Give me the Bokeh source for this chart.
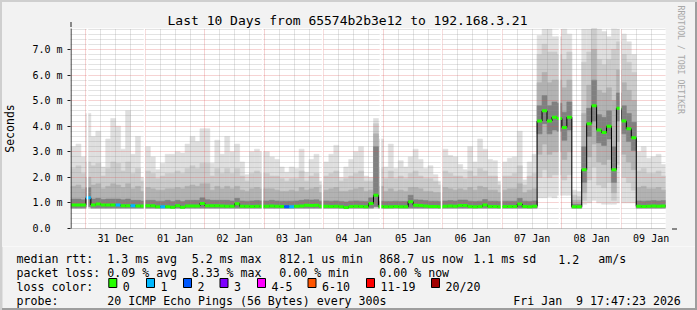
import math
import numpy as np
from bokeh.plotting import figure
from bokeh.layouts import column
from bokeh.models import FixedTicker, Grid, Arrow, NormalHead, Range1d, Title
from bokeh.core.properties import value
from bokeh.embed import file_html
from bokeh.resources import INLINE

# ---------------- data ----------------
# time axis: hours since 30 Dec 00:00; graph ends Fri Jan 9 17:47:23
T_END = 257.79
T_START = T_END - 240.0
BIN_START = 18.0          # first 2-hour consolidation bin (30 Dec 18:00)
BIN_HOURS = 2.0
Y_MAX = 7.82              # ms

day_labels = ["31 Dec", "01 Jan", "02 Jan", "03 Jan", "04 Jan",
              "05 Jan", "06 Jan", "07 Jan", "08 Jan", "09 Jan"]
label_hours = [36, 60, 84, 108, 132, 156, 180, 204, 228, 252]
y_ticks = [0, 1, 2, 3, 4, 5, 6, 7]
y_labels = ["0.0\u00a0\u00a0", "1.0 m", "2.0 m", "3.0 m", "4.0 m", "5.0 m", "6.0 m", "7.0 m"]

# median rtt per bin (ms)
median_ms = [
    0.92, 0.92, 0.92, 1.20, 0.92, 0.96, 0.92, 0.92, 0.92, 0.92,
    0.89, 0.89, 0.89, 0.88, 0.88, 0.89, 0.89, 0.85, 0.85, 0.85,
    0.83, 0.89, 0.83, 0.88, 0.88, 0.88, 0.98, 0.89, 0.89, 0.89,
    0.88, 0.87, 0.87, 0.97, 0.87, 0.87, 0.86, 0.87, 0.87, 0.87,
    0.88, 0.87, 0.86, 0.85, 0.85, 0.87, 0.88, 0.91, 0.90, 0.91,
    0.87, 0.87, 0.86, 0.87, 0.85, 0.82, 0.86, 0.87, 0.86, 0.85,
    0.98, 1.30, 0.86, 0.85, 0.85, 0.86, 0.85, 0.85, 1.05, 0.91,
    0.90, 0.88, 0.86, 0.86, 0.85, 0.87, 0.88, 0.87, 0.90, 0.90,
    0.86, 0.85, 0.86, 0.92, 0.86, 0.86, 0.85, 0.86, 0.86, 0.86,
    0.96, 0.86, 0.85, 0.87, 4.20, 4.60, 4.20, 4.35, 4.30, 3.95,
    4.35, 0.85, 0.85, 2.30, 4.10, 4.80, 3.85, 3.75, 4.00, 2.30,
    4.70, 4.20, 3.90, 3.55, 0.87, 0.86, 0.87, 0.88, 0.87, 0.88]

# lost pings (of 20) per bin
loss = [
    0, 0, 0, 1, 0, 0, 0, 0, 0, 1,
    0, 0, 1, 0, 0, 0, 0, 0, 1, 0,
    0, 0, 0, 0, 0, 0, 0, 0, 0, 0,
    0, 0, 0, 0, 0, 0, 0, 0, 0, 0,
    0, 0, 0, 2, 1, 0, 0, 0, 0, 0,
    0, 0, 0, 0, 0, 0, 0, 0, 0, 0,
    0, 0, 0, 0, 0, 0, 0, 0, 0, 0,
    0, 0, 0, 0, 0, 0, 0, 0, 0, 0,
    0, 0, 0, 0, 0, 0, 0, 0, 0, 0,
    0, 0, 0, 0, 0, 0, 0, 0, 0, 0,
    0, 0, 0, 0, 0, 0, 0, 0, 0, 0,
    0, 0, 0, 0, 0, 0, 0, 0, 0, 0]

# smoke: top of the four ping-spread bands (outermost first)
smoke_top1 = [
    3.20, 3.30, 2.80, 4.50, 3.60, 3.80, 2.40, 3.50, 4.30, 4.00,
    3.10, 4.60, 2.90, 3.60, 2.00, 3.20, 2.80, 2.30, 2.55, 2.90,
    2.90, 3.00, 2.95, 3.30, 3.60, 3.40, 3.90, 3.90, 2.55, 3.45,
    2.90, 3.60, 3.00, 3.30, 2.60, 2.10, 3.00, 3.10, 3.00, 3.00,
    2.80, 2.70, 2.40, 2.20, 2.40, 2.35, 3.10, 2.20, 2.70, 2.90,
    1.85, 2.60, 2.90, 3.25, 2.00, 2.40, 2.70, 3.00, 3.20, 2.05,
    2.00, 4.30, 3.50, 2.40, 3.30, 2.35, 2.65, 2.40, 2.80, 3.10,
    2.70, 2.35, 2.45, 2.10, 1.85, 3.10, 2.85, 2.80, 2.50, 2.30,
    3.20, 2.60, 3.50, 3.10, 2.70, 2.65, 1.85, 2.60, 2.75, 2.80,
    3.80, 1.90, 2.60, 2.90, 7.55, 7.80, 7.80, 7.50, 7.50, 7.80,
    7.60, 1.50, 1.45, 7.80, 7.80, 7.82, 7.80, 7.70, 7.50, 7.82,
    7.80, 7.60, 7.30, 6.80, 3.00, 3.20, 2.75, 2.80, 2.90, 2.50]
smoke_top2 = [
    2.35, 2.45, 2.15, 2.60, 2.45, 2.55, 2.05, 2.35, 2.60, 2.55,
    2.25, 2.60, 2.15, 2.35, 1.85, 2.25, 2.15, 1.95, 2.05, 2.15,
    2.15, 2.25, 2.15, 2.35, 2.45, 2.35, 2.55, 2.55, 2.05, 2.35,
    2.15, 2.35, 2.15, 2.35, 2.05, 1.85, 2.15, 2.25, 2.15, 2.15,
    2.05, 2.05, 1.95, 1.85, 1.95, 1.95, 2.25, 1.85, 2.05, 2.15,
    1.70, 2.05, 2.15, 2.25, 1.85, 1.95, 2.05, 2.15, 2.25, 1.85,
    1.85, 4.10, 2.35, 1.95, 2.25, 1.95, 2.05, 1.95, 2.15, 2.25,
    2.05, 1.95, 1.95, 1.85, 1.70, 2.25, 2.15, 2.05, 2.05, 1.95,
    2.25, 2.05, 2.35, 2.25, 2.05, 2.05, 1.70, 2.05, 2.05, 2.15,
    2.45, 1.70, 2.05, 2.15, 6.80, 7.20, 6.90, 6.90, 6.80, 6.60,
    6.90, 1.30, 1.25, 6.50, 6.90, 7.82, 6.60, 6.40, 6.60, 7.00,
    7.30, 6.80, 6.50, 6.10, 2.25, 2.35, 2.15, 2.15, 2.25, 2.05]
smoke_top3 = [
    1.65, 1.70, 1.55, 2.00, 1.70, 1.75, 1.55, 1.65, 1.75, 1.70,
    1.60, 1.75, 1.55, 1.65, 1.45, 1.60, 1.55, 1.50, 1.50, 1.55,
    1.55, 1.60, 1.55, 1.65, 1.70, 1.65, 1.75, 1.75, 1.50, 1.65,
    1.55, 1.65, 1.55, 1.65, 1.50, 1.45, 1.55, 1.60, 1.55, 1.55,
    1.55, 1.50, 1.45, 1.45, 1.50, 1.45, 1.60, 1.50, 1.55, 1.60,
    1.40, 1.50, 1.55, 1.60, 1.45, 1.45, 1.50, 1.55, 1.60, 1.45,
    1.50, 3.70, 1.65, 1.45, 1.55, 1.45, 1.50, 1.45, 1.60, 1.60,
    1.55, 1.45, 1.45, 1.40, 1.40, 1.60, 1.55, 1.50, 1.55, 1.50,
    1.60, 1.50, 1.65, 1.60, 1.50, 1.50, 1.40, 1.50, 1.55, 1.55,
    1.75, 1.40, 1.50, 1.55, 5.70, 6.10, 5.70, 5.80, 5.80, 5.50,
    5.80, 1.10, 1.10, 4.50, 5.60, 7.00, 5.40, 5.30, 5.50, 5.00,
    6.20, 5.70, 5.40, 5.00, 1.60, 1.65, 1.55, 1.55, 1.60, 1.50]
smoke_top4 = [
    1.15, 1.15, 1.12, 1.60, 1.15, 1.18, 1.13, 1.15, 1.15, 1.15,
    1.12, 1.15, 1.10, 1.10, 1.08, 1.10, 1.10, 1.07, 1.07, 1.10,
    1.06, 1.10, 1.06, 1.10, 1.10, 1.10, 1.20, 1.12, 1.10, 1.10,
    1.10, 1.10, 1.08, 1.18, 1.08, 1.07, 1.08, 1.09, 1.08, 1.08,
    1.10, 1.08, 1.07, 1.07, 1.07, 1.08, 1.10, 1.12, 1.11, 1.12,
    1.07, 1.08, 1.07, 1.08, 1.06, 1.04, 1.07, 1.08, 1.07, 1.06,
    1.20, 3.20, 1.07, 1.06, 1.06, 1.07, 1.06, 1.06, 1.30, 1.12,
    1.11, 1.09, 1.07, 1.07, 1.06, 1.08, 1.09, 1.08, 1.11, 1.11,
    1.07, 1.06, 1.07, 1.13, 1.07, 1.07, 1.06, 1.07, 1.07, 1.07,
    1.18, 1.07, 1.06, 1.08, 4.80, 5.20, 4.80, 4.95, 4.90, 4.55,
    4.95, 0.95, 0.95, 3.20, 4.70, 5.80, 4.45, 4.35, 4.60, 3.20,
    5.30, 4.80, 4.50, 4.15, 1.08, 1.07, 1.08, 1.09, 1.08, 1.09]
# smoke: bottom of the same bands
smoke_bot1 = [
    0.78, 0.78, 0.78, 0.80, 0.78, 0.78, 0.78, 0.78, 0.78, 0.78,
    0.78, 0.78, 0.78, 0.78, 0.78, 0.78, 0.78, 0.78, 0.78, 0.78,
    0.78, 0.78, 0.78, 0.78, 0.78, 0.78, 0.78, 0.78, 0.78, 0.78,
    0.78, 0.78, 0.78, 0.78, 0.78, 0.78, 0.78, 0.78, 0.78, 0.78,
    0.78, 0.78, 0.78, 0.78, 0.78, 0.78, 0.78, 0.78, 0.78, 0.78,
    0.78, 0.78, 0.78, 0.78, 0.78, 0.77, 0.78, 0.78, 0.78, 0.78,
    0.78, 0.80, 0.78, 0.78, 0.78, 0.78, 0.78, 0.78, 0.78, 0.78,
    0.78, 0.78, 0.78, 0.78, 0.78, 0.78, 0.78, 0.78, 0.78, 0.78,
    0.78, 0.78, 0.78, 0.78, 0.78, 0.78, 0.78, 0.78, 0.78, 0.78,
    0.78, 0.78, 0.78, 0.78, 1.20, 1.20, 1.25, 1.20, 1.30, 1.30,
    1.30, 0.78, 0.78, 0.95, 1.00, 1.10, 1.00, 0.95, 0.95, 0.95,
    1.00, 1.00, 1.00, 1.00, 0.78, 0.78, 0.78, 0.78, 0.78, 0.78]
smoke_bot2 = [
    0.79, 0.79, 0.79, 0.82, 0.79, 0.79, 0.79, 0.79, 0.79, 0.79,
    0.79, 0.79, 0.79, 0.79, 0.79, 0.79, 0.79, 0.79, 0.79, 0.79,
    0.79, 0.79, 0.79, 0.79, 0.79, 0.79, 0.79, 0.79, 0.79, 0.79,
    0.79, 0.79, 0.79, 0.79, 0.79, 0.79, 0.79, 0.79, 0.79, 0.79,
    0.79, 0.79, 0.79, 0.79, 0.79, 0.79, 0.79, 0.79, 0.79, 0.79,
    0.79, 0.79, 0.79, 0.79, 0.79, 0.78, 0.79, 0.79, 0.79, 0.79,
    0.79, 0.82, 0.79, 0.79, 0.79, 0.79, 0.79, 0.79, 0.79, 0.79,
    0.79, 0.79, 0.79, 0.79, 0.79, 0.79, 0.79, 0.79, 0.79, 0.79,
    0.79, 0.79, 0.79, 0.79, 0.79, 0.79, 0.79, 0.79, 0.79, 0.79,
    0.79, 0.79, 0.79, 0.79, 2.00, 2.30, 2.00, 2.10, 2.10, 1.90,
    2.10, 0.79, 0.79, 1.10, 1.90, 2.40, 1.70, 1.60, 1.80, 1.10,
    2.50, 2.00, 1.80, 1.50, 0.79, 0.79, 0.79, 0.79, 0.79, 0.79]
smoke_bot3 = [
    0.80, 0.80, 0.80, 0.84, 0.80, 0.80, 0.80, 0.80, 0.80, 0.80,
    0.80, 0.80, 0.80, 0.80, 0.80, 0.80, 0.80, 0.80, 0.80, 0.80,
    0.80, 0.80, 0.80, 0.80, 0.80, 0.80, 0.80, 0.80, 0.80, 0.80,
    0.80, 0.80, 0.80, 0.80, 0.80, 0.80, 0.80, 0.80, 0.80, 0.80,
    0.80, 0.80, 0.80, 0.80, 0.80, 0.80, 0.80, 0.80, 0.80, 0.80,
    0.80, 0.80, 0.80, 0.80, 0.80, 0.79, 0.80, 0.80, 0.80, 0.80,
    0.80, 0.84, 0.80, 0.80, 0.80, 0.80, 0.80, 0.80, 0.80, 0.80,
    0.80, 0.80, 0.80, 0.80, 0.80, 0.80, 0.80, 0.80, 0.80, 0.80,
    0.80, 0.80, 0.80, 0.80, 0.80, 0.80, 0.80, 0.80, 0.80, 0.80,
    0.80, 0.80, 0.80, 0.80, 2.90, 3.30, 2.90, 3.00, 3.00, 2.70,
    3.00, 0.80, 0.80, 1.40, 2.80, 3.30, 2.60, 2.50, 2.70, 1.40,
    3.40, 2.90, 2.60, 2.30, 0.80, 0.80, 0.80, 0.80, 0.80, 0.80]
smoke_bot4 = [
    0.81, 0.81, 0.81, 0.86, 0.81, 0.81, 0.81, 0.81, 0.81, 0.81,
    0.81, 0.81, 0.81, 0.81, 0.81, 0.81, 0.81, 0.81, 0.81, 0.81,
    0.81, 0.81, 0.81, 0.81, 0.81, 0.81, 0.81, 0.81, 0.81, 0.81,
    0.81, 0.81, 0.81, 0.81, 0.81, 0.81, 0.81, 0.81, 0.81, 0.81,
    0.81, 0.81, 0.81, 0.81, 0.81, 0.81, 0.81, 0.81, 0.81, 0.81,
    0.81, 0.81, 0.81, 0.81, 0.81, 0.80, 0.81, 0.81, 0.81, 0.81,
    0.81, 0.86, 0.81, 0.81, 0.81, 0.81, 0.81, 0.81, 0.81, 0.81,
    0.81, 0.81, 0.81, 0.81, 0.81, 0.81, 0.81, 0.81, 0.81, 0.81,
    0.81, 0.81, 0.81, 0.81, 0.81, 0.81, 0.81, 0.81, 0.81, 0.81,
    0.81, 0.81, 0.81, 0.81, 3.70, 4.10, 3.70, 3.85, 3.80, 3.45,
    3.85, 0.81, 0.81, 1.80, 3.60, 4.20, 3.35, 3.25, 3.50, 1.80,
    4.20, 3.70, 3.40, 3.05, 0.81, 0.81, 0.81, 0.81, 0.81, 0.81]

# missing-data moments (hours)
gap_hours = [24.6, 47.6, 95.2, 119.3, 143.0, 167.4, 191.6, 215.0, 239.6]

loss_levels = ["0", "1", "2", "3", "4-5", "6-10", "11-19", "20/20"]
loss_colors = ["#26ff00", "#00b8ff", "#0059ff", "#7e00ff", "#ff00ff", "#ff5500", "#ff0000", "#a10000"]

title_text = "Last 10 Days from 65574b2b3e12 to 192.168.3.21"
legend_rtt = ["median rtt:", "1.3 ms avg", "5.2 ms max", "812.1 us min", "868.7 us now", "1.1 ms sd", "1.2", "am/s"]
legend_loss = ["packet loss:", "0.09 % avg", "8.33 % max", "0.00 % min", "0.00 % now"]
legend_probe = ["probe:", "20 ICMP Echo Pings (56 Bytes) every 300s", "Fri Jan\u00a0 9 17:47:23 2026"]

# ---------------- main graph ----------------
MONO = "DejaVu Sans Mono"
BG = "#f2f2f2"
W = 697
H_MAIN = 246
H_LEG = 310 - H_MAIN

p = figure(width=W, height=H_MAIN, title=title_text,
           x_range=Range1d(T_START, T_END), y_range=Range1d(0, Y_MAX),
           output_backend="svg", toolbar_location=None,
           min_border_left=67, min_border_right=30, min_border_top=28, min_border_bottom=18,
           background_fill_color="#ffffff", border_fill_color=BG, outline_line_color=None)
p.grid.visible = False
p.title.align = "left"
p.title.offset = 97
p.title.standoff = 2
p.title.text_font = MONO
p.title.text_font_size = "13px"
p.title.text_font_style = "normal"
p.title.text_color = "#000000"

n = len(median_ms)
left = BIN_START + BIN_HOURS * np.arange(n)
right = left + BIN_HOURS
center = left + BIN_HOURS / 2

band_colors = ["#dfdfdf", "#cbcbcb", "#b2b2b2", "#808080"]
for b, t, c in zip([smoke_bot1, smoke_bot2, smoke_bot3, smoke_bot4],
                   [smoke_top1, smoke_top2, smoke_top3, smoke_top4], band_colors):
    p.quad(left=left, right=right, bottom=b, top=t, fill_color=c,
           line_color=c, line_width=0.6, level="image")


def add_grid(dim, ticks, color, alpha):
    g = Grid(dimension=dim, ticker=FixedTicker(ticks=ticks), grid_line_color=color,
             grid_line_alpha=alpha, grid_line_dash="1 1", grid_line_width=1, level="underlay")
    p.add_layout(g, "center")


midnights = [24 * d for d in range(1, 11)]
six_hours = [h for h in range(18, 258, 6) if h % 24 != 0]
y_minor = [round(0.2 * i, 1) for i in range(1, 40) if i % 5 != 0]
add_grid(1, y_minor, "#8f8f8f", 0.5)
add_grid(0, six_hours, "#8f8f8f", 0.5)
add_grid(1, y_ticks[1:], "#de4f4f", 0.5)
add_grid(0, midnights, "#de4f4f", 0.5)

# median line with loss-coloured markers
p.step(x=list(left) + [left[-1] + BIN_HOURS], y=median_ms + [median_ms[-1]], mode="after",
       line_color="#000000", line_width=1)
med_colors = [loss_colors[min(l, 7)] for l in loss]
p.rect(x=center, y=median_ms, width=BIN_HOURS, height=3, height_units="screen",
       fill_color=med_colors, line_color=None)

# missing data
p.vspan(x=gap_hours, line_color="#ffffff", line_width=1.5)

# axes
xa = p.xaxis[0]
xa.ticker = FixedTicker(ticks=label_hours)
xa.major_label_overrides = {h: s for h, s in zip(label_hours, day_labels)}
xa.axis_line_color = None
xa.major_tick_line_color = None
xa.major_tick_out = 0
xa.major_tick_in = 0
xa.minor_tick_line_color = None
xa.major_label_text_font = MONO
xa.major_label_text_font_size = "10px"
xa.major_label_text_color = "#000000"
xa.major_label_standoff = 4

ya = p.yaxis[0]
ya.ticker = FixedTicker(ticks=y_ticks)
ya.major_label_overrides = {v: s for v, s in zip(y_ticks, y_labels)}
ya.axis_line_color = None
ya.major_tick_line_color = "#1f1f1f"
ya.major_tick_out = 3
ya.major_tick_in = 0
ya.minor_tick_line_color = None
ya.major_label_text_font = MONO
ya.major_label_text_font_size = "10px"
ya.major_label_text_color = "#000000"
ya.major_label_standoff = 5
ya.axis_label = "Seconds"
ya.axis_label_text_font = MONO
ya.axis_label_text_font_size = "11.5px"
ya.axis_label_text_font_style = "normal"
ya.axis_label_text_color = "#000000"
ya.axis_label_standoff = 12

# axis lines with rrdtool arrows (screen units relative to frame)
head = dict(size=5, fill_color="#801f1f", line_color="#801f1f", line_width=1)
p.add_layout(Arrow(end=NormalHead(**head), x_start=0.5, y_start=-4, x_end=0.5, y_end=206.5,
                   start_units="screen", end_units="screen", line_color="#1f1f1f", line_width=1))
p.add_layout(Arrow(end=NormalHead(**head), x_start=-4, y_start=-0.5, x_end=606.5, y_end=-0.5,
                   start_units="screen", end_units="screen", line_color="#1f1f1f", line_width=1))

# watermark on the right
wm = Title(text="RRDTOOL / TOBI OETIKER", align="left", offset=-23, standoff=20,
           text_font=MONO, text_font_size="8.2px", text_font_style="normal", text_color="#a8a8a8")
p.add_layout(wm, "right")

# ---------------- legend strip ----------------
q = figure(width=W, height=H_LEG, x_range=Range1d(0, W), y_range=Range1d(H_LEG, 0),
           output_backend="svg", toolbar_location=None, x_axis_type=None, y_axis_type=None,
           min_border=0, min_border_left=0, min_border_right=0, min_border_top=0, min_border_bottom=0,
           background_fill_color=BG, border_fill_color=BG, outline_line_color=None)
q.grid.visible = False

for fig in (p, q):
    if "frame_align" in fig.properties():
        fig.frame_align = False

Y0 = H_MAIN
rtt_x = [16, 106.8, 191.2, 278.8, 378.8, 472.8, 557.8, 597.8]
loss_x = [16, 106.8, 191.2, 278.8, 378.8]
probe_x = [16, 106.8, 512.8]
box_x = [108.3, 146, 183, 219.5, 257, 307.5, 366, 431]

tx = rtt_x + loss_x + [16] + [bx + 14 for bx in box_x] + probe_x
ty = ([258.5 - Y0] * len(rtt_x) + [272.3 - Y0] * len(loss_x) + [286 - Y0] * (1 + len(box_x))
      + [300 - Y0] * len(probe_x))
tt = legend_rtt + legend_loss + ["loss color:"] + loss_levels + legend_probe
q.text(x=tx, y=ty, text=tt, text_font=value(MONO), text_font_size=value("11.6px"),
       text_align="left", text_baseline="alphabetic", text_color="#000000")
q.quad(left=box_x, right=[bx + 8 for bx in box_x], top=[278 - Y0] * len(box_x),
       bottom=[287 - Y0] * len(box_x), fill_color=loss_colors, line_color="#000000", line_width=1)

# outer border (bottom strip part)
q.quad(left=[0, 0, W - 2], right=[W, 2, W], top=[H_LEG - 2, 0, 0], bottom=[H_LEG, H_LEG, H_LEG],
       fill_color=["#9e9e9e", "#cfcfcf", "#9e9e9e"], line_color=None)

border_css = (":host { position: relative; }\n"
              ":host::after { content: ''; position: absolute; left: 0; top: 0; right: 0; bottom: 0;"
              " pointer-events: none; z-index: 10;"
              " box-shadow: inset 2px 2px 0 0 #cfcfcf, inset -2px -2px 0 0 #9e9e9e; }")
layout = column(p, q, spacing=0, stylesheets=[border_css])
open("out.html", "w").write(file_html(layout, INLINE))
